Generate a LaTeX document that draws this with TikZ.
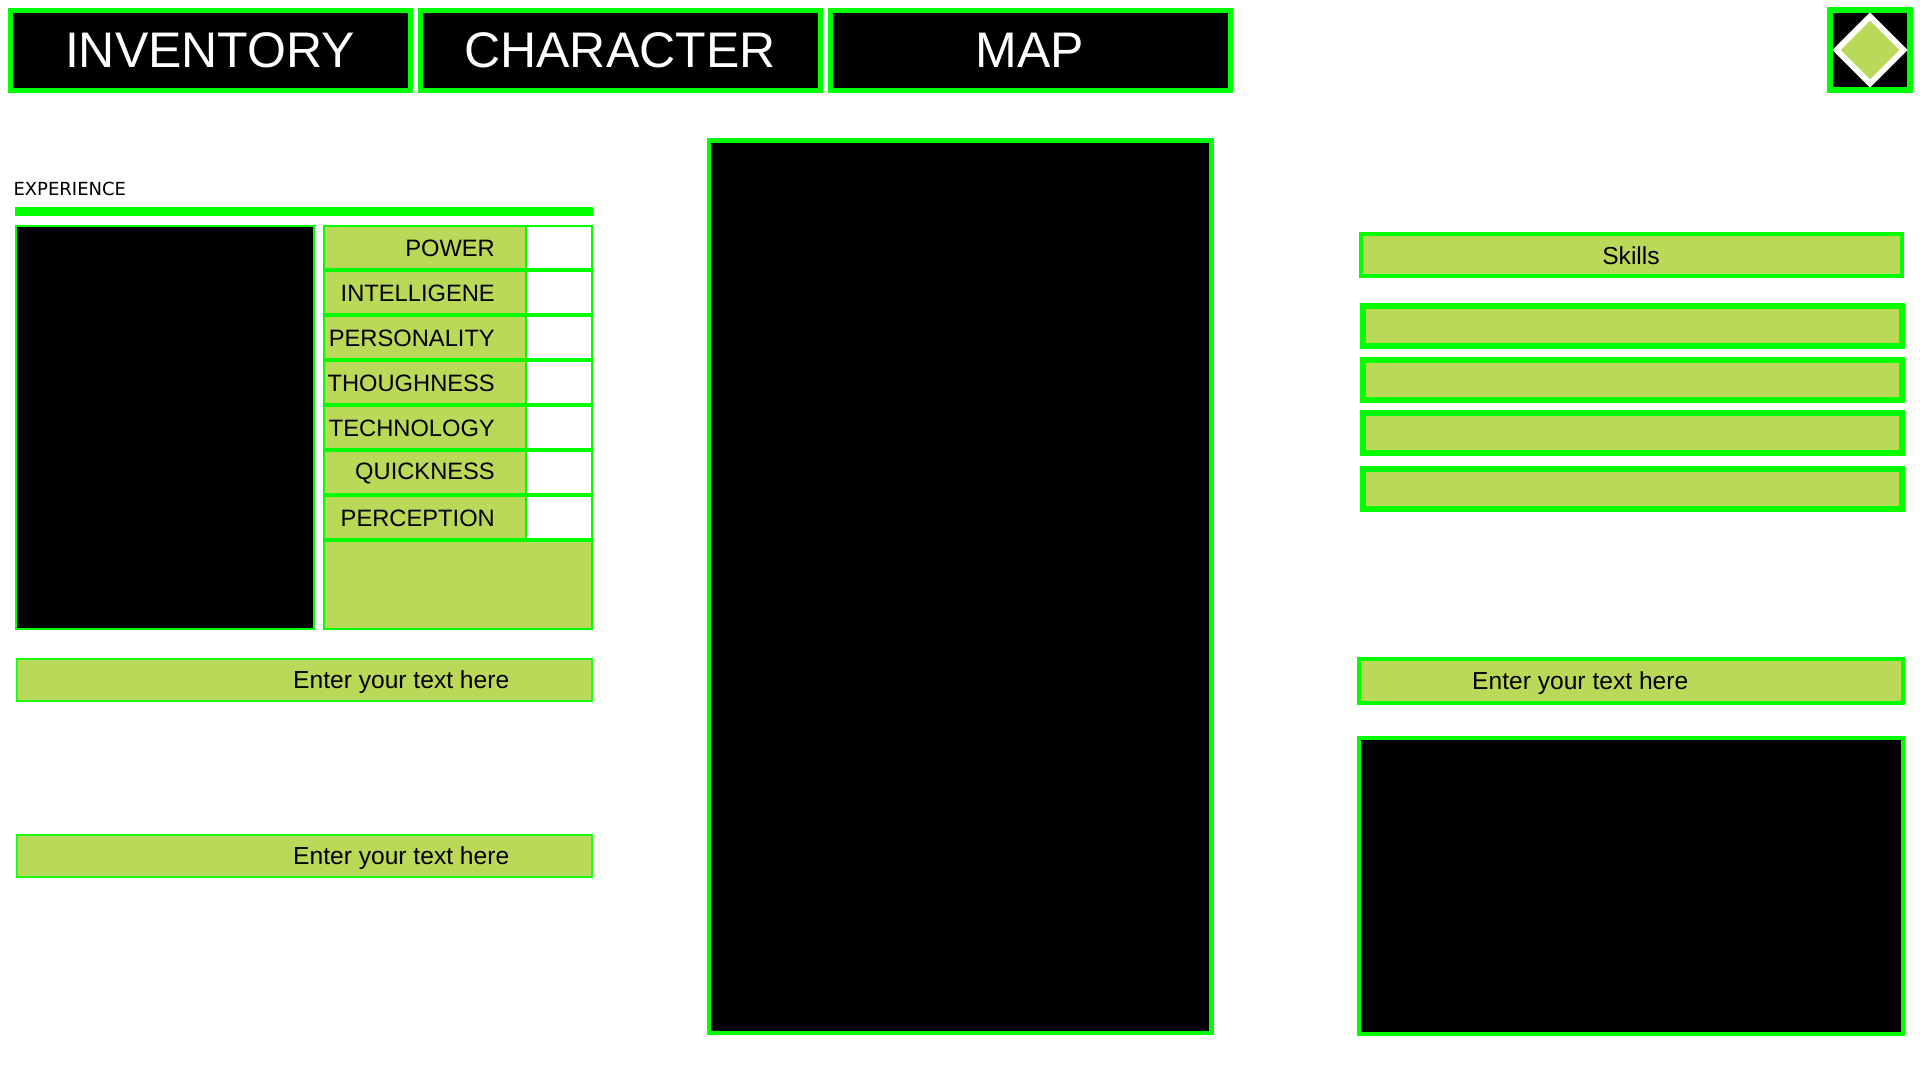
\documentclass[tikz,border=0pt]{standalone}
\usepackage{fontspec}
\setmainfont{Liberation Sans}
\newfontfamily\dejavu{DejaVu Sans}
\definecolor{neon}{HTML}{00FF00}
\definecolor{softneon}{HTML}{1CFF1C}
\definecolor{lime}{HTML}{BBD958}
\tikzset{
 x=1pt,y=-1pt,
 tabbox/.style={draw=neon,fill=black,line width=5pt},
 tablabel/.style={text=white,inner sep=0pt,font=\fontsize{50}{50}\selectfont},
 rowtext/.style={anchor=base east,inner sep=0pt,font=\fontsize{23.7}{24}\selectfont},
 fieldtext/.style={anchor=base west,inner sep=0pt,font=\fontsize{24.6}{25}\selectfont},
 thinlime/.style={draw=neon,fill=lime,line width=2pt},
 thinwhite/.style={draw=neon,fill=white,line width=2pt},
 thinfield/.style={draw=softneon,fill=lime,line width=2pt},
 skillbar/.style={draw=neon,fill=lime,line width=5.5pt},
 headbar/.style={draw=neon,fill=lime,line width=4pt},
 darkpanel/.style={draw=neon,fill=black,line width=4pt},
}
\newcommand{\rectnode}[6]{% name,style,x0,y0,x1,y1
 \path[#2] (#3,#4) rectangle (#5,#6);
 \coordinate (#1) at (#3,#4);
}
\begin{document}
\begin{tikzpicture}
\useasboundingbox[fill=white] (0,0) rectangle (1920,1080);
% tabs
\rectnode{tinv}{tabbox}{10}{10}{410}{90}
\rectnode{tchar}{tabbox}{420}{10}{820}{90}
\rectnode{tmap}{tabbox}{830}{10}{1230}{90}
\node[tablabel] (linv) at (210,50) {INVENTORY};
\node[tablabel] (lchar) at (620,50) {CHARACTER};
\node[tablabel] (lmap) at (1030,50) {MAP};
% corner
\rectnode{corner}{draw=neon,fill=black,line width=6pt}{1830}{10}{1910}{90}
\filldraw[draw=white,fill=lime,line width=5.8pt,line join=miter] (1870,16.4) -- (1903.6,50) -- (1870,83.6) -- (1836.4,50) -- cycle;
% experience
\node[anchor=base west,inner sep=0pt,font=\dejavu\fontsize{18}{18}\selectfont] (exp) at (13.3,195) {EXPERIENCE};
\fill[neon] (15,207) rectangle (593,215.5);
% portrait
\rectnode{portrait}{draw=neon,fill=black,line width=2pt}{16}{226}{314}{629}
% table
\foreach \n/\y/\t/\b in {a/226/POWER/256,b/270/INTELLIGENE/301,c/315/PERSONALITY/346,d/360/THOUGHNESS/391,e/405/TECHNOLOGY/436,f/450/QUICKNESS/479,g/495/PERCEPTION/526}{
 \path[thinlime] (323.5,\y) rectangle (526,\y+45);
 \path[thinwhite] (526,\y) rectangle (592,\y+45);
 \node[rowtext] (r\n) at (495,\b) {\t};
}
\rectnode{tail}{thinlime}{323.5}{540}{592}{629}
\foreach \y in {270,315,360,405,450,495,540}{
 \draw[neon,line width=3.5pt] (323,\y) -- (592.5,\y);
}
% fields left
\rectnode{f1}{thinfield}{17}{658.5}{592}{701}
\rectnode{f2}{thinfield}{17}{834.5}{592}{877}
\node[fieldtext] (lf1) at (293,688) {Enter your text here};
\node[fieldtext] (lf2) at (293,864) {Enter your text here};
% centre
\rectnode{centre}{draw=neon,fill=black,line width=4.5pt}{709}{140.5}{1211.5}{1033}
% right
\rectnode{skills}{headbar}{1360.5}{234}{1902}{276}
\node[inner sep=0pt,font=\fontsize{24.6}{25}\selectfont,anchor=base] (lskills) at (1631,264) {Skills};
\foreach \n/\a/\b in {s1/306/346,s2/360/400,s3/413/453,s4/469/509}{
 \path[skillbar] (1363,\a) rectangle (1902,\b);
}
\rectnode{f3}{headbar}{1359}{659}{1903}{703}
\node[fieldtext] (lf3) at (1472,689) {Enter your text here};
\rectnode{rbox}{darkpanel}{1359}{737.5}{1903}{1034}
\end{tikzpicture}
\end{document}
